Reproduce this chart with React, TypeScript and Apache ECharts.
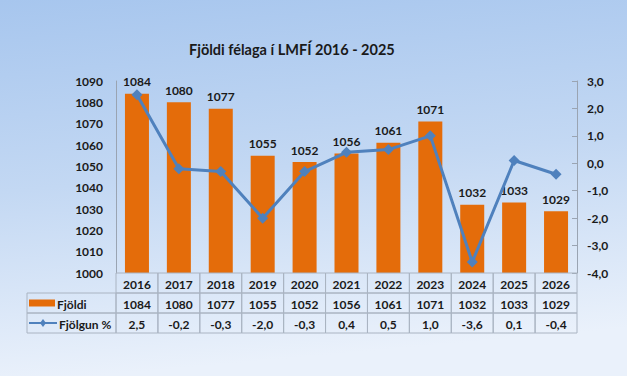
import React, { useEffect, useRef } from "react";
import * as echarts from "echarts";

const years = ["2016", "2017", "2018", "2019", "2020", "2021", "2022", "2023", "2024", "2025", "2026"];
const fjoldi = [1084, 1080, 1077, 1055, 1052, 1056, 1061, 1071, 1032, 1033, 1029];
const fjolgun = [2.5, -0.2, -0.3, -2.0, -0.3, 0.4, 0.5, 1.0, -3.6, 0.1, -0.4];
const seriesNames = ["Fjöldi", "Fjölgun %"];
const tableRows = ["years", "fjoldi", "fjolgun"];

const FONT = "Lato, 'Noto Sans', sans-serif";
const BAR_COLOR = "#e46c0a";
const LINE_COLOR = "#4f81bd";
const BORDER = "#aab4c2";
const fmtPct = (v: number) => v.toFixed(1).replace(".", ",");

const cellText = (col: number, row: number) =>
  row === 0 ? years[col] : row === 1 ? String(fjoldi[col]) : fmtPct(fjolgun[col]);

const tableData: number[][] = [];
years.forEach((_, c) => tableRows.forEach((_, r) => tableData.push([c, r])));

const LEGEND_COL_LEFT = 27;

export default function App() {
  const ref = useRef<HTMLDivElement>(null);
  useEffect(() => {
    const chart = echarts.init(ref.current!, null, { renderer: "svg" });
    chart.setOption({
      animation: false,
      backgroundColor: {
        type: "linear",
        x: 0, y: 0, x2: 0.15, y2: 1,
        colorStops: [
          { offset: 0, color: "#a7c6ee" },
          { offset: 0.5, color: "#c3d8f3" },
          { offset: 1, color: "#eaf1fb" },
        ],
      },
      title: {
        text: "Fjöldi félaga í LMFÍ 2016 - 2025",
        left: 184,
        top: 37,
        textStyle: { fontFamily: FONT, fontWeight: "bold", fontSize: 14.5, color: "#1a1a1a" },
      },
      grid: [
        { left: 116, right: 50, top: 81, height: 192 },
        { left: 116, right: 50, top: 273, height: 60 },
      ],
      xAxis: [
        {
          type: "category", data: years, gridIndex: 0,
          axisLine: { show: false }, axisTick: { show: false }, axisLabel: { show: false },
        },
        { type: "category", data: years, gridIndex: 1, show: false },
      ],
      yAxis: [
        {
          type: "value", gridIndex: 0, min: 1000, max: 1090, interval: 10,
          splitLine: { show: false },
          axisLine: { show: true, lineStyle: { color: "#9aa4b2", width: 1 } },
          axisTick: { show: false },
          axisLabel: {
            margin: 13, fontFamily: FONT, fontWeight: "bold", fontSize: 12, color: "#1a1a1a",
            formatter: (v: number) => String(v),
          },
        },
        {
          type: "value", gridIndex: 0, position: "right", min: -4, max: 3, interval: 1,
          splitLine: { show: false },
          axisLine: { show: true, lineStyle: { color: "#9aa4b2", width: 1 } },
          axisTick: { show: true, inside: true, length: 5, lineStyle: { color: "#9aa4b2" } },
          axisLabel: {
            margin: 10, fontFamily: FONT, fontWeight: "bold", fontSize: 12, color: "#1a1a1a",
            formatter: (v: number) => fmtPct(v),
          },
        },
        { type: "category", data: tableRows, gridIndex: 1, inverse: true, show: false },
      ],
      series: [
        {
          name: seriesNames[0],
          type: "bar",
          xAxisIndex: 0, yAxisIndex: 0,
          data: fjoldi,
          barWidth: 24,
          itemStyle: { color: BAR_COLOR },
          label: {
            show: true, position: "top", distance: 6,
            fontFamily: FONT, fontWeight: "bold", fontSize: 12, color: "#1a1a1a",
          },
          z: 2,
        },
        {
          name: seriesNames[1],
          type: "line",
          xAxisIndex: 0, yAxisIndex: 1,
          data: fjolgun,
          symbol: "diamond",
          symbolSize: 11,
          lineStyle: { color: LINE_COLOR, width: 3 },
          itemStyle: { color: LINE_COLOR },
          z: 3,
        },
        {
          name: "table",
          type: "custom",
          clip: false,
          xAxisIndex: 1, yAxisIndex: 2,
          data: tableData,
          z: 5,
          renderItem: (params: any, api: any) => {
            const col = api.value(0);
            const row = api.value(1);
            const c = api.coord([col, row]);
            const s = api.size([1, 1]);
            const x0 = c[0] - s[0] / 2;
            const y0 = c[1] - s[1] / 2;
            const children: any[] = [
              {
                type: "rect",
                shape: { x: x0, y: y0, width: s[0], height: s[1] },
                style: { fill: "none", stroke: BORDER, lineWidth: 1 },
              },
              {
                type: "text",
                x: c[0], y: c[1] + 1,
                style: {
                  text: cellText(col, row),
                  textAlign: "center", textVerticalAlign: "middle",
                  font: `bold 12px ${FONT}`, fill: "#1a1a1a",
                },
              },
            ];
            if (col === 0 && row > 0) {
              const L = LEGEND_COL_LEFT;
              children.push({
                type: "rect",
                shape: { x: L, y: y0, width: x0 - L, height: s[1] },
                style: { fill: "none", stroke: BORDER, lineWidth: 1 },
              });
              if (row === 1) {
                children.push({
                  type: "rect",
                  shape: { x: L + 2, y: c[1] - 3.5, width: 26, height: 7 },
                  style: { fill: BAR_COLOR },
                });
                children.push({
                  type: "text", x: L + 30, y: c[1] + 1,
                  style: { text: seriesNames[0], textAlign: "left", textVerticalAlign: "middle", font: `bold 12px ${FONT}`, fill: "#1a1a1a" },
                });
              } else {
                children.push({
                  type: "line",
                  shape: { x1: L + 2, y1: c[1], x2: L + 30, y2: c[1] },
                  style: { stroke: LINE_COLOR, lineWidth: 2 },
                });
                children.push({
                  type: "polygon",
                  shape: { points: [[L + 16, c[1] - 4], [L + 19, c[1]], [L + 16, c[1] + 4], [L + 13, c[1]]] },
                  style: { fill: LINE_COLOR },
                });
                children.push({
                  type: "text", x: L + 32, y: c[1] + 1,
                  style: { text: seriesNames[1], textAlign: "left", textVerticalAlign: "middle", font: `bold 12px ${FONT}`, fill: "#1a1a1a" },
                });
              }
            }
            return { type: "group", children };
          },
        },
      ],
    });
    return () => chart.dispose();
  }, []);
  return <div ref={ref} style={{ position: "fixed", left: 0, top: 0, width: 627, height: 376 }} />;
}
